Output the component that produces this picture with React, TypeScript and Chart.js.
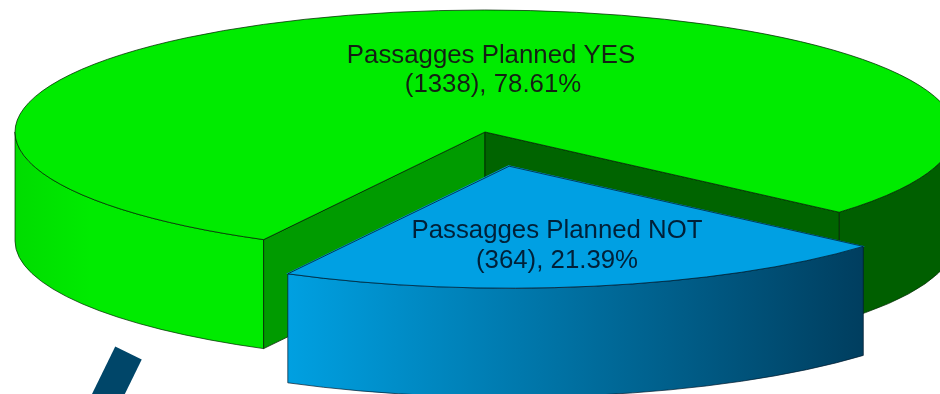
import React, { useEffect, useRef } from "react";
import { Chart, registerables } from "chart.js";

Chart.register(...registerables);

const categories = ["Passagges Planned YES", "Passagges Planned NOT"];
const passages = [1338, 364];
const barX = [128.5, 105];
const barY = [353, 401];

const TOP_COLORS = ["#00EB00", "#00A0E3"];
const ROTATION = 208.1;
const RADIUS = 94;
const OFFSET = 104.5;
const CX = 485, CY = 132, RX = 470, RY = 122, DEPTH = 109;
const TAU = Math.PI * 2;

const total = passages.reduce((a, b) => a + b, 0);
const valueLine = (i: number) => `(${passages[i]}), ${((passages[i] / total) * 100).toFixed(2)}%`;

function visibleRanges(a: number, b: number) {
  const out: [number, number][] = [];
  for (let k = 0; k < 3; k++) {
    const lo = Math.max(a, TAU * k), hi = Math.min(b, TAU * k + Math.PI);
    if (hi > lo) out.push([lo, hi]);
  }
  return out;
}
function sidePath(ctx: CanvasRenderingContext2D, cx: number, cy: number, a: number, b: number) {
  ctx.beginPath();
  ctx.ellipse(cx, cy, RX, RY, 0, a, b);
  ctx.ellipse(cx, cy + DEPTH, RX, RY, 0, b, a, true);
  ctx.closePath();
}
function rimPoint(cx: number, cy: number, a: number) {
  return [cx + RX * Math.cos(a), cy + RY * Math.sin(a)];
}
function wall(ctx: CanvasRenderingContext2D, cx: number, cy: number, a: number, color: string) {
  const [x, y] = rimPoint(cx, cy, a);
  ctx.beginPath();
  ctx.moveTo(cx, cy);
  ctx.lineTo(x, y);
  ctx.lineTo(x, y + DEPTH);
  ctx.lineTo(cx, cy + DEPTH);
  ctx.closePath();
  ctx.fillStyle = color;
  ctx.fill();
  ctx.strokeStyle = "rgba(0,30,0,0.75)";
  ctx.lineWidth = 1;
  ctx.stroke();
}
function blueOffset(arc: any) {
  const mid = (arc.startAngle + arc.endAngle) / 2;
  const fix = 1 - Math.sin(Math.min(Math.PI, arc.circumference));
  const dist = (OFFSET / 4) * (1 + fix) * (RX / arc.outerRadius);
  const distY = (OFFSET / 4) * (1 + fix) * (RY / arc.outerRadius);
  return [CX + Math.cos(mid) * dist, CY + Math.sin(mid) * distY];
}

const pie3d = {
  id: "pie3d",
  beforeDatasetDraw(chart: any, args: any) {
    const ctx: CanvasRenderingContext2D = chart.ctx;
    const [green, blue] = args.meta.data;

    const gGrad = ctx.createLinearGradient(CX - RX, 0, CX + RX, 0);
    gGrad.addColorStop(0, "#00DC00");
    gGrad.addColorStop(0.08, "#00EB00");
    gGrad.addColorStop(0.27, "#00EB00");
    gGrad.addColorStop(0.87, "#005F00");
    gGrad.addColorStop(1, "#005F00");
    for (const [a, b] of visibleRanges(green.startAngle, green.endAngle)) {
      sidePath(ctx, CX, CY, a, b);
      ctx.fillStyle = gGrad;
      ctx.fill();
      ctx.strokeStyle = "rgba(0,40,0,0.7)";
      ctx.lineWidth = 1;
      ctx.stroke();
    }
    wall(ctx, CX, CY, green.startAngle, "#009B00");
    wall(ctx, CX, CY, green.endAngle, "#006400");

    const [bx, by] = blueOffset(blue);
    const left = rimPoint(bx, by, blue.endAngle)[0];
    const right = rimPoint(bx, by, blue.startAngle)[0];
    const bGrad = ctx.createLinearGradient(left, 0, right, 0);
    bGrad.addColorStop(0, "#00A0E1");
    bGrad.addColorStop(1, "#003E5F");
    sidePath(ctx, bx, by, blue.startAngle, blue.endAngle);
    ctx.fillStyle = bGrad;
    ctx.fill();
    ctx.strokeStyle = "rgba(0,25,45,0.7)";
    ctx.lineWidth = 1;
    ctx.stroke();

    ctx.save();
    ctx.translate(CX, CY);
    ctx.scale(RX / green.outerRadius, RY / green.outerRadius);
    ctx.translate(-green.x, -green.y);
  },
  afterDatasetDraw(chart: any, args: any) {
    const ctx: CanvasRenderingContext2D = chart.ctx;
    ctx.restore();
    const [green, blue] = args.meta.data;
    const outline = (cx: number, cy: number, arc: any, color: string) => {
      ctx.beginPath();
      ctx.moveTo(cx, cy);
      ctx.ellipse(cx, cy, RX, RY, 0, arc.startAngle, arc.endAngle);
      ctx.closePath();
      ctx.strokeStyle = color;
      ctx.lineWidth = 1;
      ctx.stroke();
    };
    outline(CX, CY, green, "rgba(0,40,0,0.75)");
    const [bx, by] = blueOffset(blue);
    outline(bx, by, blue, "rgba(0,25,45,0.75)");

    ctx.font = "25.8px 'Liberation Sans'";
    ctx.textAlign = "center";
    ctx.textBaseline = "alphabetic";
    ctx.fillStyle = "#142014";
    ctx.fillText(categories[0], 491, 63);
    ctx.fillText(valueLine(0), 493, 92);
    ctx.fillStyle = "#002038";
    ctx.fillText(categories[1], 557, 238);
    ctx.fillText(valueLine(1), 557, 268);
  },
};

const layerStyle: React.CSSProperties = {
  position: "absolute",
  left: 0,
  top: 0,
  display: "block",
  width: 940,
  height: 394,
  filter: "blur(0.45px)",
};

export default function App() {
  const pieRef = useRef<HTMLCanvasElement>(null);
  const barRef = useRef<HTMLCanvasElement>(null);
  useEffect(() => {
    document.body.style.margin = "0";
    const pie = new Chart(pieRef.current!, {
      type: "pie",
      data: {
        labels: categories,
        datasets: [
          {
            data: passages,
            backgroundColor: TOP_COLORS,
            borderWidth: 0,
            offset: [0, OFFSET],
            clip: false,
          } as any,
        ],
      },
      options: {
        animation: false,
        responsive: false,
        rotation: ROTATION,
        radius: RADIUS,
        plugins: { legend: { display: false }, tooltip: { enabled: false } },
      } as any,
      plugins: [pie3d],
    });
    const bar = new Chart(barRef.current!, {
      type: "line",
      data: {
        datasets: [
          {
            data: barX.map((x, i) => ({ x, y: barY[i] })),
            borderColor: "#004669",
            borderWidth: 29.5,
            borderCapStyle: "butt",
            pointRadius: 0,
          } as any,
        ],
      },
      options: {
        animation: false,
        responsive: false,
        plugins: { legend: { display: false }, tooltip: { enabled: false } },
        scales: {
          x: { type: "linear", display: false, min: 0, max: 940 },
          y: { type: "linear", display: false, min: 0, max: 394, reverse: true },
        },
      } as any,
    });
    return () => {
      pie.destroy();
      bar.destroy();
    };
  }, []);
  return (
    <div style={{ position: "relative", width: 940, height: 394, overflow: "hidden", background: "#fff" }}>
      <canvas ref={pieRef} width={940} height={394} style={layerStyle} />
      <canvas ref={barRef} width={940} height={394} style={layerStyle} />
    </div>
  );
}
